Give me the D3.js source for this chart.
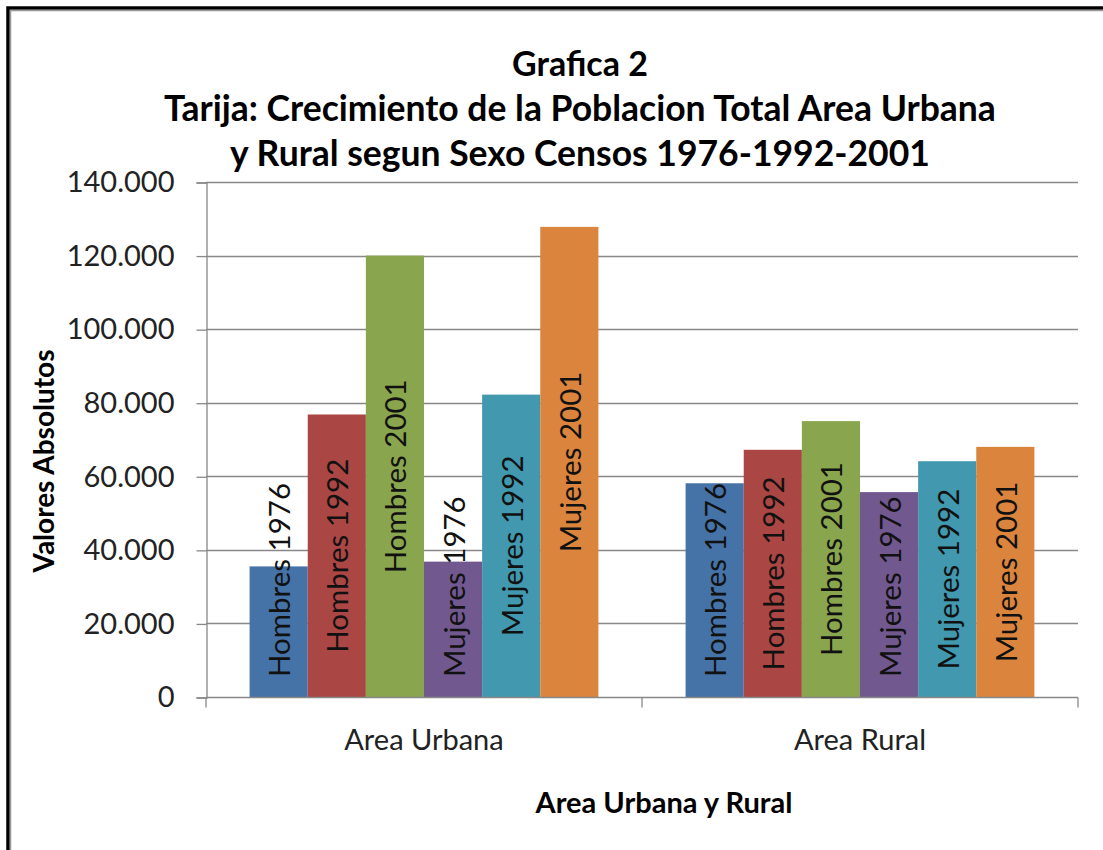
<!DOCTYPE html>
<html>
<head>
<meta charset="utf-8">
<script src="https://cdn.jsdelivr.net/npm/d3@7"></script>
<style>
  body { margin: 0; background: #fff; }
  svg { display: block; font-family: Lato, "Open Sans", sans-serif; }
</style>
</head>
<body>
<div id="chart"></div>
<script>
// data
var categories = ["Area Urbana", "Area Rural"];
var series = ["Hombres 1976", "Hombres 1992", "Hombres 2001", "Mujeres 1976", "Mujeres 1992", "Mujeres 2001"];
var urbana = [35500, 76800, 120000, 36800, 82200, 127800];
var rural = [58100, 67200, 75000, 55700, 64100, 68000];
var yTicks = [0, 20000, 40000, 60000, 80000, 100000, 120000, 140000];
var colors = ["#4572A7", "#AA4643", "#89A54E", "#71588F", "#4198AF", "#DB843D"];
var titleLines = ["Grafica 2", "Tarija: Crecimiento de la Poblacion Total Area Urbana", "y Rural segun Sexo Censos 1976-1992-2001"];

var valuesByCat = [urbana, rural];

var W = 1103, H = 850;
var plotLeft = 206, plotRight = 1078, plotTop = 182, plotBottom = 697;

var svg = d3.select("#chart").append("svg")
    .attr("width", W).attr("height", H);

// frame
svg.append("rect").attr("x", 8).attr("y", 8).attr("width", W + 20).attr("height", H + 20)
    .attr("fill", "none").attr("stroke", "#000").attr("stroke-width", 3.5);
svg.append("rect").attr("x", 10.5).attr("y", 10.5).attr("width", W + 20).attr("height", H + 20)
    .attr("fill", "none").attr("stroke", "#999").attr("stroke-width", 1.5);

var x0 = d3.scaleBand().domain(categories).range([plotLeft, plotRight]).padding(0);
var x1 = d3.scaleBand().domain(series).range([0, x0.bandwidth()]).paddingInner(0).paddingOuter(0.75);
var y = d3.scaleLinear().domain([0, 140000]).range([plotBottom, plotTop]);

var locale = d3.formatLocale({ decimal: ",", thousands: ".", grouping: [3], currency: ["", ""] });
var fmt = locale.format(",");

// gridlines
svg.append("g").selectAll("line").data(yTicks.slice(1)).join("line")
    .attr("x1", plotLeft).attr("x2", plotRight)
    .attr("y1", d => Math.round(y(d)) + 0.5).attr("y2", d => Math.round(y(d)) + 0.5)
    .attr("stroke", "#888").attr("stroke-width", 1.3);

// y axis
var yAxis = svg.append("g").attr("transform", "translate(" + (plotLeft + 0.5) + ",0.5)")
    .call(d3.axisLeft(y).tickValues(yTicks).tickFormat(fmt).tickSize(10).tickPadding(22));
yAxis.select(".domain").attr("stroke", "#888").attr("stroke-width", 1.3);
yAxis.selectAll(".tick line").attr("stroke", "#888").attr("stroke-width", 1.3);
yAxis.selectAll(".tick text").attr("font-size", 29).attr("fill", "#222")
    .attr("font-family", "Lato, sans-serif");

// bars
var groups = svg.append("g").selectAll("g").data(categories).join("g")
    .attr("transform", d => "translate(" + x0(d) + ",0)");

groups.selectAll("rect")
    .data((c, i) => series.map((s, j) => ({ s: s, v: valuesByCat[i][j], j: j })))
    .join("rect")
    .attr("x", d => x1(d.s))
    .attr("width", x1.bandwidth())
    .attr("y", d => y(d.v))
    .attr("height", d => y(0) - y(d.v))
    .attr("fill", d => colors[d.j]);

groups.selectAll("text")
    .data((c, i) => series.map((s, j) => ({ s: s, v: valuesByCat[i][j], j: j })))
    .join("text")
    .attr("font-size", 29.5)
    .attr("fill", "#111")
    .attr("text-anchor", "middle")
    .attr("dominant-baseline", "central")
    .text(d => d.s)
    .each(function(d) {
        var len = this.getComputedTextLength();
        var cx = x1(d.s) + x1.bandwidth() / 2;
        var cy = Math.min((y(d.v) + y(0)) / 2, y(0) - 20 - len / 2);
        d3.select(this).attr("transform", "translate(" + cx + "," + cy + ") rotate(-90)");
    });

// x axis
var xAxis = svg.append("g").attr("transform", "translate(0," + (plotBottom + 0.5) + ")");
xAxis.append("line").attr("x1", plotLeft).attr("x2", plotRight).attr("stroke", "#888").attr("stroke-width", 1.3);
xAxis.selectAll("line.tk").data([plotLeft, plotLeft + x0.bandwidth(), plotRight]).join("line")
    .attr("class", "tk")
    .attr("x1", d => d).attr("x2", d => d).attr("y1", 0).attr("y2", 10)
    .attr("stroke", "#888").attr("stroke-width", 1.3);
xAxis.selectAll("text").data(categories).join("text")
    .attr("x", d => x0(d) + x0.bandwidth() / 2)
    .attr("y", 52)
    .attr("text-anchor", "middle")
    .attr("font-size", 29)
    .attr("fill", "#222")
    .text(d => d);

// titles
svg.append("g").selectAll("text").data(titleLines).join("text")
    .attr("x", 580)
    .attr("y", (d, i) => 76 + i * 45)
    .attr("text-anchor", "middle")
    .attr("font-size", (d, i) => i === 0 ? 34 : 35.5)
    .attr("font-weight", "bold")
    .attr("fill", "#000")
    .text(d => d);

svg.append("text")
    .attr("transform", "translate(54,461) rotate(-90)")
    .attr("text-anchor", "middle")
    .attr("font-size", 28)
    .attr("font-weight", "bold")
    .text("Valores Absolutos");

svg.append("text")
    .attr("x", 664).attr("y", 813)
    .attr("text-anchor", "middle")
    .attr("font-size", 29)
    .attr("font-weight", "bold")
    .text("Area Urbana y Rural");
</script>
</body>
</html>
